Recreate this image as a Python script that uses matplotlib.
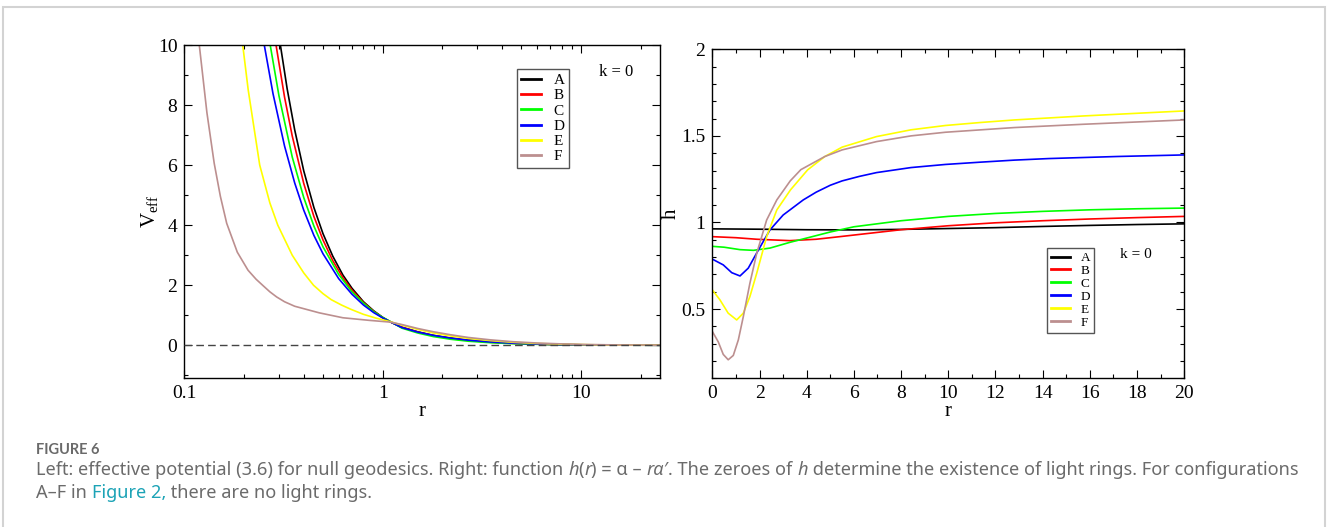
import matplotlib
matplotlib.use('Agg')
import matplotlib.pyplot as plt
from matplotlib.ticker import LogLocator, NullFormatter, FixedLocator, MultipleLocator
from matplotlib.patches import Rectangle

# ---- data ----
names = ['A', 'B', 'C', 'D', 'E', 'F']
colors = ['#000000', '#ff0000', '#00ff00', '#0000ff', '#ffff00', '#bc8f8f']

# left: V_eff(r), log r axis
rA = [0.305, 0.33, 0.36, 0.4, 0.45, 0.5, 0.56, 0.63, 0.7, 0.8, 0.9, 1.0, 1.1, 1.25, 1.5, 1.8, 2.2, 2.7, 3.5, 4.5, 6, 8, 11, 15, 25]
vA = [10, 8.54, 7.18, 5.81, 4.59, 3.72, 2.97, 2.34, 1.90, 1.45, 1.15, 0.93, 0.77, 0.6, 0.45, 0.33, 0.24, 0.17, 0.11, 0.07, 0.04, 0.022, 0.012, 0.006, 0.002]
rB = [0.29, 0.32, 0.35, 0.4, 0.45, 0.5, 0.56, 0.63, 0.7, 0.8, 0.9, 1.0, 1.1, 1.25, 1.5, 1.8, 2.2, 2.7, 3.5, 4.5, 6, 8, 11, 15, 25]
vB = [10, 8.27, 6.97, 5.39, 4.29, 3.51, 2.82, 2.25, 1.84, 1.42, 1.13, 0.92, 0.77, 0.6, 0.44, 0.32, 0.23, 0.16, 0.1, 0.065, 0.037, 0.02, 0.011, 0.005, 0.002]
rC = [0.271, 0.3, 0.35, 0.4, 0.45, 0.5, 0.6, 0.7, 0.8, 0.9, 1.0, 1.1, 1.25, 1.5, 1.8, 2.2, 2.7, 3.5, 4.5, 6, 8, 11, 15, 25]
vC = [10, 8.31, 6.27, 4.92, 3.97, 3.28, 2.36, 1.78, 1.40, 1.12, 0.93, 0.78, 0.57, 0.41, 0.29, 0.2, 0.135, 0.085, 0.055, 0.032, 0.018, 0.009, 0.004, 0.001]
rD = [0.253, 0.28, 0.32, 0.36, 0.4, 0.45, 0.5, 0.6, 0.7, 0.8, 0.9, 1.0, 1.1, 1.25, 1.5, 1.8, 2.2, 2.7, 3.5, 4.5, 6, 8, 11, 15, 25]
vD = [10, 8.38, 6.64, 5.41, 4.50, 3.66, 3.05, 2.22, 1.70, 1.34, 1.09, 0.91, 0.77, 0.59, 0.44, 0.33, 0.24, 0.17, 0.11, 0.07, 0.04, 0.022, 0.011, 0.005, 0.002]
rE = [0.197, 0.21, 0.24, 0.27, 0.296, 0.35, 0.4, 0.448, 0.5, 0.55, 0.62, 0.69, 0.8, 0.93, 1.1, 1.25, 1.5, 1.8, 2.2, 2.7, 3.5, 4.5, 6, 8, 11, 15, 25]
vE = [10, 8.5, 6.0, 4.74, 4.0, 3.0, 2.41, 2.0, 1.72, 1.52, 1.34, 1.2, 1.03, 0.9, 0.78, 0.67, 0.53, 0.41, 0.31, 0.23, 0.155, 0.1, 0.06, 0.035, 0.018, 0.009, 0.003]
rF = [0.119, 0.13, 0.1415, 0.152, 0.1636, 0.185, 0.2095, 0.23, 0.25, 0.27, 0.292, 0.32, 0.36, 0.479, 0.63, 0.855, 1.1, 1.25, 1.5, 1.8, 2.2, 2.7, 3.5, 4.5, 6, 8, 11, 15, 25]
vF = [10, 7.75, 6.06, 4.96, 4.06, 3.10, 2.5, 2.2, 1.98, 1.78, 1.61, 1.45, 1.30, 1.08, 0.916, 0.83, 0.77, 0.69, 0.56, 0.45, 0.35, 0.26, 0.18, 0.12, 0.075, 0.045, 0.024, 0.012, 0.004]

# right: h(r)
hrA = [0, 2, 4, 6, 8, 10, 12, 14, 16, 18, 20]
hA = [0.963, 0.961, 0.958, 0.957, 0.96, 0.965, 0.97, 0.977, 0.983, 0.988, 0.992]
hrB = [0, 1, 1.88, 3.28, 4.4, 5.4, 6.5, 8, 10, 12, 14, 16, 18, 20]
hB = [0.918, 0.912, 0.903, 0.895, 0.903, 0.918, 0.935, 0.958, 0.981, 0.998, 1.01, 1.02, 1.028, 1.035]
hrC = [0, 0.5, 1.17, 1.74, 2.44, 3.28, 4.0, 5.0, 6.0, 8, 10, 12, 14, 16, 18, 20]
hC = [0.862, 0.857, 0.843, 0.839, 0.852, 0.885, 0.91, 0.945, 0.975, 1.01, 1.035, 1.052, 1.064, 1.073, 1.079, 1.083]
hrD = [0, 0.46, 0.82, 1.17, 1.52, 1.95, 2.44, 3.0, 3.85, 4.4, 5.0, 5.5, 6.23, 6.96, 8.42, 9.88, 11.34, 12.8, 14.26, 15.72, 17.18, 20]
hD = [0.788, 0.755, 0.71, 0.691, 0.736, 0.841, 0.957, 1.043, 1.13, 1.175, 1.215, 1.24, 1.266, 1.288, 1.317, 1.335, 1.348, 1.36, 1.369, 1.375, 1.381, 1.39]
hrE = [0, 0.32, 0.67, 1.03, 1.31, 1.59, 1.88, 2.3, 2.73, 3.31, 4.04, 4.77, 5.5, 6.96, 8.42, 9.88, 11.34, 12.8, 15.72, 20]
hE = [0.61, 0.553, 0.476, 0.437, 0.476, 0.572, 0.707, 0.918, 1.072, 1.188, 1.304, 1.381, 1.435, 1.496, 1.535, 1.56, 1.577, 1.592, 1.615, 1.644]
hrF = [0, 0.25, 0.46, 0.67, 0.886, 1.1, 1.31, 1.59, 1.88, 2.3, 2.73, 3.3, 3.75, 4.77, 5.5, 6.96, 8.42, 9.88, 12.8, 15.72, 20]
hF = [0.37, 0.31, 0.238, 0.207, 0.232, 0.322, 0.456, 0.649, 0.822, 1.014, 1.13, 1.24, 1.305, 1.381, 1.419, 1.467, 1.5, 1.521, 1.548, 1.567, 1.592]

left_r = [rA, rB, rC, rD, rE, rF]
left_v = [vA, vB, vC, vD, vE, vF]
right_r = [hrA, hrB, hrC, hrD, hrE, hrF]
right_h = [hA, hB, hC, hD, hE, hF]

W, H = 1327, 527
plt.rcParams['font.family'] = 'Liberation Serif'
plt.rcParams['mathtext.fontset'] = 'custom'
plt.rcParams['mathtext.rm'] = 'Liberation Serif'
plt.rcParams['axes.linewidth'] = 1.0

fig = plt.figure(figsize=(W / 100, H / 100), dpi=100)

ax1 = fig.add_axes([184.3 / W, 1 - 378.3 / H, 475.7 / W, 333.3 / H])
ax2 = fig.add_axes([712.4 / W, 1 - 378.3 / H, 471.7 / W, 329.0 / H])

for ax in (ax1, ax2):
    ax.tick_params(which='both', direction='in', top=True, right=True, width=0.8,
                   labelsize=14, pad=5)
    ax.tick_params(which='major', length=6)
    ax.tick_params(which='minor', length=3)

# left panel
ax1.axhline(0, color='#444444', lw=1.0, dashes=(5.5, 3), zorder=3)
for x, y, c, n in zip(left_r, left_v, colors, names):
    ax1.plot(x, y, color=c, lw=1.2, label=n, zorder=2)
ax1.set_xscale('log')
ax1.set_xlim(0.1, 25)
ax1.set_ylim(-1.1, 10)
ax1.xaxis.set_major_locator(FixedLocator([0.1, 1, 10]))
ax1.set_xticklabels(['0.1', '1', '10'])
ax1.xaxis.set_minor_locator(LogLocator(base=10, subs=range(2, 10)))
ax1.xaxis.set_minor_formatter(NullFormatter())
ax1.yaxis.set_major_locator(MultipleLocator(2))
ax1.yaxis.set_minor_locator(MultipleLocator(1))
ax1.set_xlabel('r', fontsize=15, labelpad=0)
ax1.set_ylabel(r'V$_{\rm eff}$', fontsize=15, labelpad=-2)
leg1 = ax1.legend(loc='upper left', bbox_to_anchor=(0.699, 0.928), fancybox=False,
                  edgecolor='#555555', framealpha=1, fontsize=11, handlelength=1.3,
                  handletextpad=0.8, labelspacing=0.1, borderpad=0.3, borderaxespad=0)
leg1.get_frame().set_linewidth(1.0)
for l in leg1.get_lines():
    l.set_linewidth(2)
ax1.text(0.9075, 0.919, 'k = 0', transform=ax1.transAxes, ha='center', va='center', fontsize=12)

# right panel
for x, y, c, n in zip(right_r, right_h, colors, names):
    ax2.plot(x, y, color=c, lw=1.2, label=n)
ax2.set_xlim(0, 20)
ax2.set_ylim(0.1, 2)
ax2.xaxis.set_major_locator(MultipleLocator(2))
ax2.xaxis.set_minor_locator(MultipleLocator(1))
ax2.yaxis.set_major_locator(FixedLocator([0.5, 1, 1.5, 2]))
ax2.set_yticklabels(['0.5', '1', '1.5', '2'])
ax2.yaxis.set_minor_locator(MultipleLocator(0.1))
ax2.set_xlabel('r', fontsize=15, labelpad=0)
ax2.set_ylabel('h', fontsize=15, labelpad=0)
leg2 = ax2.legend(loc='upper left', bbox_to_anchor=(0.709, 0.396), fancybox=False,
                  edgecolor='#555555', framealpha=1, fontsize=9.5, handlelength=1.45,
                  handletextpad=0.8, labelspacing=0.05, borderpad=0.3, borderaxespad=0)
leg2.get_frame().set_linewidth(1.0)
for l in leg2.get_lines():
    l.set_linewidth(2)
ax2.text(0.897, 0.375, 'k = 0', transform=ax2.transAxes, ha='center', va='center', fontsize=11)

# outer frame
fig.patches.append(Rectangle((3.5 / W, -0.05), (1325 - 3.5) / W, 1.05 - 6.5 / H,
                             transform=fig.transFigure, fill=False,
                             edgecolor='#d3d3d3', lw=1.5))

# caption
renderer = fig.canvas.get_renderer()
cap_font = ['Noto Sans', 'DejaVu Sans']
gray = '#6b6b6b'


def piece_width(s, **kw):
    t1 = fig.text(0, 0, '|' + s + '|', **kw)
    t2 = fig.text(0, 0, '||', **kw)
    w = t1.get_window_extent(renderer).width - t2.get_window_extent(renderer).width
    t1.remove()
    t2.remove()
    return w


def write_line(pieces, x0, base, size):
    x = x0
    for s, style, col in pieces:
        kw = dict(fontsize=size, family=cap_font, style=style, color=col)
        fig.text(x / W, 1 - base / H, s, va='baseline', ha='left', **kw)
        x += piece_width(s, **kw)


fig.text(36 / W, 1 - 454 / H, 'FIGURE 6', family=['Lato', 'DejaVu Sans'], fontsize=10.5,
         fontweight='bold', color='#6a6a6a', va='baseline')
write_line([
    ('Left: effective potential (3.6) for null geodesics. Right: function ', 'normal', gray),
    ('h', 'italic', gray), ('(', 'normal', gray), ('r', 'italic', gray),
    (') = \u03b1 \u2013 ', 'normal', gray), ('r\u03b1\u2032', 'italic', gray),
    ('. The zeroes of ', 'normal', gray), ('h', 'italic', gray),
    (' determine the existence of light rings. For configurations', 'normal', gray),
], 36, 475, 13.1)
write_line([
    ('A\u2013F in ', 'normal', gray), ('Figure 2,', 'normal', '#1ca3b6'),
    (' there are no light rings.', 'normal', gray),
], 36, 497.7, 13.1)

fig.savefig('out.png', dpi=100)
